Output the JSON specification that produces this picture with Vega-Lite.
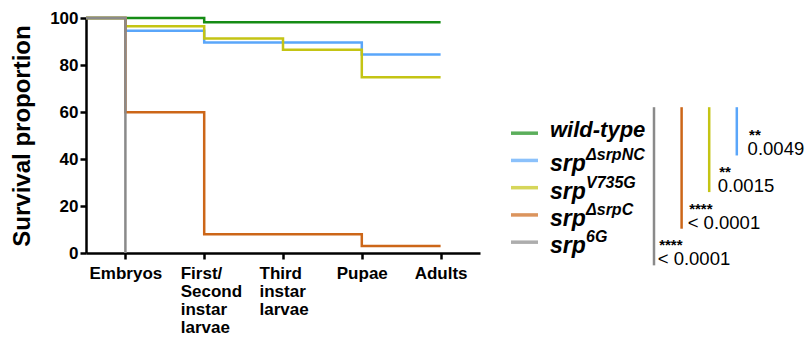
{
  "$schema": "https://vega.github.io/schema/vega-lite/v6.json",
  "padding": {"left": 10, "top": 9, "right": 0, "bottom": 0},
  "background": "white",
  "config": {"view": {"stroke": null}, "font": "Liberation Sans", "concat": {"spacing": 20}},
  "datasets": {
    "curves": [
      {"series": "wild-type", "stage_index": -0.5, "stage": "Start", "survival": 100},
      {"series": "wild-type", "stage_index": 0, "stage": "Embryos", "survival": 100},
      {"series": "wild-type", "stage_index": 1, "stage": "First/Second instar larvae", "survival": 98.2},
      {"series": "wild-type", "stage_index": 2, "stage": "Third instar larvae", "survival": 98.2},
      {"series": "wild-type", "stage_index": 3, "stage": "Pupae", "survival": 98.2},
      {"series": "wild-type", "stage_index": 4, "stage": "Adults", "survival": 98.2},
      {"series": "srpΔsrpNC", "stage_index": -0.5, "stage": "Start", "survival": 100},
      {"series": "srpΔsrpNC", "stage_index": 0, "stage": "Embryos", "survival": 94.6},
      {"series": "srpΔsrpNC", "stage_index": 1, "stage": "First/Second instar larvae", "survival": 89.6},
      {"series": "srpΔsrpNC", "stage_index": 2, "stage": "Third instar larvae", "survival": 89.6},
      {"series": "srpΔsrpNC", "stage_index": 3, "stage": "Pupae", "survival": 84.5},
      {"series": "srpΔsrpNC", "stage_index": 4, "stage": "Adults", "survival": 84.5},
      {"series": "srpV735G", "stage_index": -0.5, "stage": "Start", "survival": 100},
      {"series": "srpV735G", "stage_index": 0, "stage": "Embryos", "survival": 96.5},
      {"series": "srpV735G", "stage_index": 1, "stage": "First/Second instar larvae", "survival": 91.3},
      {"series": "srpV735G", "stage_index": 2, "stage": "Third instar larvae", "survival": 86.5},
      {"series": "srpV735G", "stage_index": 3, "stage": "Pupae", "survival": 74.8},
      {"series": "srpV735G", "stage_index": 4, "stage": "Adults", "survival": 74.8},
      {"series": "srpΔsrpC", "stage_index": -0.5, "stage": "Start", "survival": 100},
      {"series": "srpΔsrpC", "stage_index": 0, "stage": "Embryos", "survival": 59.9},
      {"series": "srpΔsrpC", "stage_index": 1, "stage": "First/Second instar larvae", "survival": 8},
      {"series": "srpΔsrpC", "stage_index": 2, "stage": "Third instar larvae", "survival": 8},
      {"series": "srpΔsrpC", "stage_index": 3, "stage": "Pupae", "survival": 3},
      {"series": "srpΔsrpC", "stage_index": 4, "stage": "Adults", "survival": 3},
      {"series": "srp6G", "stage_index": -0.5, "stage": "Start", "survival": 100},
      {"series": "srp6G", "stage_index": 0, "stage": "Embryos", "survival": 0}
    ],
    "legend": [
      {"series": "wild-type", "base": "wild-type", "sup": "", "order": 0},
      {"series": "srpΔsrpNC", "base": "srp", "sup": "ΔsrpNC", "order": 1},
      {"series": "srpV735G", "base": "srp", "sup": "V735G", "order": 2},
      {"series": "srpΔsrpC", "base": "srp", "sup": "ΔsrpC", "order": 3},
      {"series": "srp6G", "base": "srp", "sup": "6G", "order": 4}
    ],
    "comparisons": [
      {"series": "srp6G", "k": 0, "stars": "****", "p": "< 0.0001"},
      {"series": "srpΔsrpC", "k": 1, "stars": "****", "p": "< 0.0001"},
      {"series": "srpV735G", "k": 2, "stars": "**", "p": "0.0015"},
      {"series": "srpΔsrpNC", "k": 3, "stars": "**", "p": "0.0049"}
    ]
  },
  "hconcat": [
    {
      "width": 394,
      "height": 235,
      "data": {"name": "curves"},
      "encoding": {
        "x": {
          "field": "stage_index", "type": "quantitative",
          "scale": {"domain": [-0.5, 4.5], "nice": false, "zero": false},
          "axis": {
            "values": [0, 1, 2, 3, 4],
            "labelExpr": "datum.value == 0 ? 'Embryos' : datum.value == 1 ? ['First/', 'Second', 'instar', 'larvae'] : datum.value == 2 ? ['Third', 'instar', 'larvae'] : datum.value == 3 ? 'Pupae' : 'Adults'",
            "title": null, "grid": false,
            "labelFont": "Liberation Sans", "labelFontWeight": "bold", "labelFontSize": 17, "labelColor": "black",
            "labelLineHeight": 18.3, "labelBaseline": "top", "labelPadding": 6,
            "labelAlign": {"condition": {"test": "datum.value == 1 || datum.value == 2", "value": "left"}, "value": "center"},
            "labelOffset": {"condition": {"test": "datum.value == 1 || datum.value == 2", "value": -24}, "value": 0},
            "labelOverlap": false, "labelBound": false, "labelFlush": false,
            "tickSize": 6, "tickWidth": 2.5, "tickColor": "black",
            "domainColor": "black", "domainWidth": 2.5
          }
        },
        "y": {
          "field": "survival", "type": "quantitative",
          "scale": {"domain": [0, 100], "nice": false},
          "axis": {
            "values": [0, 20, 40, 60, 80, 100],
            "title": "Survival proportion", "titleFont": "Liberation Sans", "titleFontSize": 24, "titleFontWeight": "bold", "titleColor": "black", "titlePadding": 15,
            "grid": false,
            "labelFont": "Liberation Sans", "labelFontWeight": "bold", "labelFontSize": 17, "labelColor": "black", "labelPadding": 2,
            "tickSize": 6, "tickWidth": 2.5, "tickColor": "black",
            "domainColor": "black", "domainWidth": 2.5
          }
        },
        "color": {
          "field": "series", "type": "nominal",
          "scale": {"domain": ["wild-type", "srpΔsrpNC", "srpV735G", "srpΔsrpC", "srp6G"], "range": ["#158c15", "#5aa6fa", "#c4c414", "#cc6618", "#8a8a8a"]},
          "legend": null
        }
      },
      "layer": [
        {"transform": [{"filter": "datum.series != 'srp6G'"}], "mark": {"type": "line", "interpolate": "step-after", "strokeWidth": 2.5}},
        {"transform": [{"filter": "datum.series == 'srp6G'"}], "mark": {"type": "line", "interpolate": "step-after", "strokeWidth": 2.5}}
      ]
    },
    {
      "width": 305,
      "height": 265,
      "resolve": {"scale": {"x": "independent", "y": "independent"}},
      "layer": [
        {
          "data": {"name": "legend"},
          "mark": {"type": "tick", "orient": "horizontal", "size": 27, "thickness": 3.5},
          "encoding": {
            "x": {"datum": 24.5, "type": "quantitative", "scale": {"domain": [0, 305], "nice": false, "zero": false}, "axis": null},
            "y": {"field": "order", "type": "quantitative", "scale": {"domain": [-4.227, 5.498], "nice": false, "zero": false, "reverse": true}, "axis": null},
            "color": {"field": "series", "type": "nominal", "scale": {"domain": ["wild-type", "srpΔsrpNC", "srpV735G", "srpΔsrpC", "srp6G"], "range": ["#158c15", "#5aa6fa", "#c4c414", "#cc6618", "#8a8a8a"]}, "legend": null}
          }
        },
        {
          "data": {"name": "legend"},
          "transform": [{"filter": "datum.order == 0"}],
          "mark": {"type": "text", "align": "left", "baseline": "alphabetic", "fontSize": 22, "fontWeight": "bold", "fontStyle": "italic", "dy": 4, "color": "black"},
          "encoding": {
            "x": {"datum": 50, "type": "quantitative", "scale": {"domain": [0, 305], "nice": false, "zero": false}, "axis": null},
            "y": {"field": "order", "type": "quantitative", "scale": {"domain": [-4.227, 5.498], "nice": false, "zero": false, "reverse": true}, "axis": null},
            "text": {"field": "base"}
          }
        },
        {
          "data": {"name": "legend"},
          "transform": [{"filter": "datum.order > 0"}],
          "mark": {"type": "text", "align": "left", "baseline": "alphabetic", "fontSize": 23, "fontWeight": "bold", "fontStyle": "italic", "dy": 11, "color": "black"},
          "encoding": {
            "x": {"datum": 50, "type": "quantitative", "scale": {"domain": [0, 305], "nice": false, "zero": false}, "axis": null},
            "y": {"field": "order", "type": "quantitative", "scale": {"domain": [-4.227, 5.498], "nice": false, "zero": false, "reverse": true}, "axis": null},
            "text": {"field": "base"}
          }
        },
        {
          "data": {"name": "legend"},
          "transform": [{"filter": "datum.order > 0"}],
          "mark": {"type": "text", "align": "left", "baseline": "alphabetic", "fontSize": 16, "fontWeight": "bold", "fontStyle": "italic", "dy": 0, "color": "black"},
          "encoding": {
            "x": {"datum": 86, "type": "quantitative", "scale": {"domain": [0, 305], "nice": false, "zero": false}, "axis": null},
            "y": {"field": "order", "type": "quantitative", "scale": {"domain": [-4.227, 5.498], "nice": false, "zero": false, "reverse": true}, "axis": null},
            "text": {"field": "sup"}
          }
        },
        {
          "data": {"name": "comparisons"},
          "mark": {"type": "rule", "strokeWidth": 2.5},
          "encoding": {
            "x": {"field": "k", "type": "quantitative", "scale": {"domain": [-5.58, 5.471], "nice": false, "zero": false}, "axis": null},
            "y": {"field": "k", "type": "quantitative", "scale": {"domain": [-0.4819, 6.753], "nice": false, "zero": false}, "axis": null},
            "y2": {"datum": 4.3175},
            "color": {"field": "series", "type": "nominal", "scale": {"domain": ["wild-type", "srpΔsrpNC", "srpV735G", "srpΔsrpC", "srp6G"], "range": ["#158c15", "#5aa6fa", "#c4c414", "#cc6618", "#8a8a8a"]}, "legend": null}
          }
        },
        {
          "data": {"name": "comparisons"},
          "mark": {"type": "text", "align": "left", "baseline": "alphabetic", "fontSize": 15, "fontWeight": "bold", "dy": -15, "dx": 1.5, "color": "black"},
          "encoding": {
            "x": {"field": "k", "type": "quantitative", "scale": {"domain": [-5.26, 4.914], "nice": false, "zero": false}, "axis": null},
            "y": {"field": "k", "type": "quantitative", "scale": {"domain": [-0.4819, 6.753], "nice": false, "zero": false}, "axis": null},
            "text": {"field": "stars"}
          }
        },
        {
          "data": {"name": "comparisons"},
          "mark": {"type": "text", "align": "left", "baseline": "alphabetic", "fontSize": 18.5, "color": "black"},
          "encoding": {
            "x": {"field": "k", "type": "quantitative", "scale": {"domain": [-5.26, 4.914], "nice": false, "zero": false}, "axis": null},
            "y": {"field": "k", "type": "quantitative", "scale": {"domain": [-0.4819, 6.753], "nice": false, "zero": false}, "axis": null},
            "text": {"field": "p"}
          }
        }
      ]
    }
  ]
}
